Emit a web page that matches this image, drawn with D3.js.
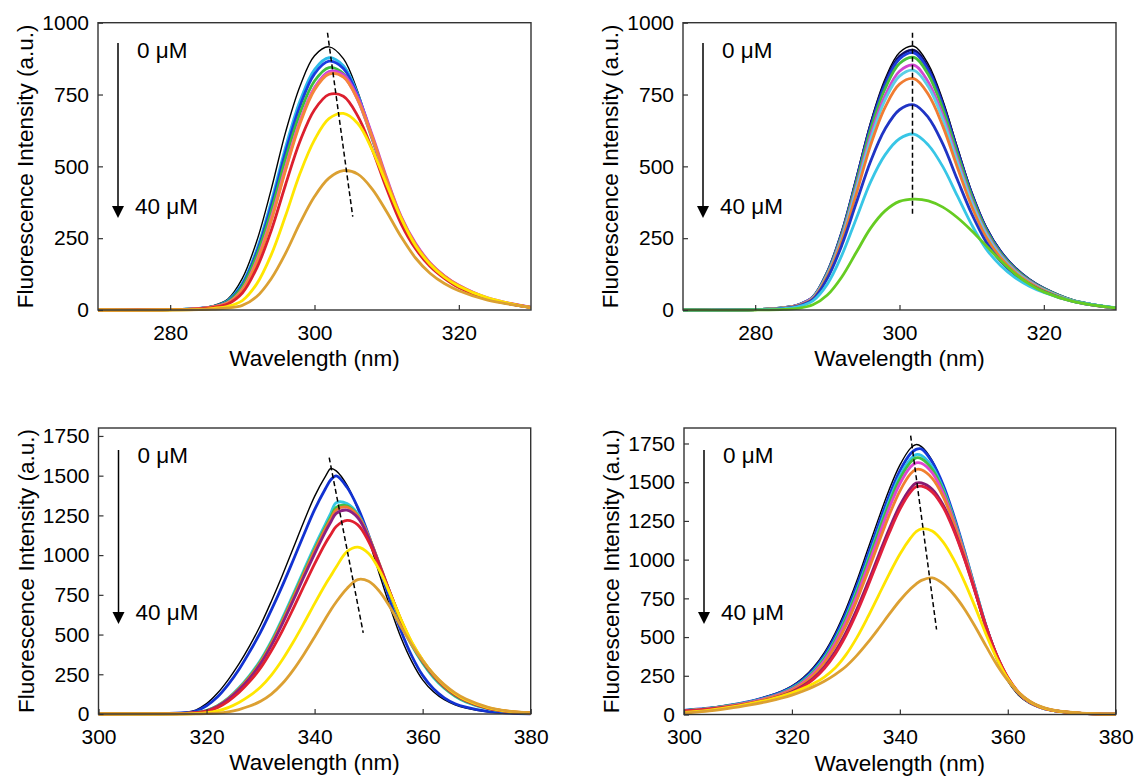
<!DOCTYPE html>
<html><head><meta charset="utf-8">
<script src="https://cdn.jsdelivr.net/npm/d3@7"></script>
<style>
body{margin:0;background:#fff;}
svg text{font-family:"Liberation Sans",Arial,Helvetica,sans-serif;fill:#000;}
</style>
</head><body>
<svg id="chart" width="1135" height="778"></svg>
<script>
// ---------- wavelength grids ----------
const wlTop = [270, 280, 284, 286, 288, 290, 292, 294, 296, 298, 300, 302, 304, 306, 308, 310, 312, 314, 316, 318, 320, 324, 330];
const wlBL = [300, 310, 316, 318, 320, 322, 324, 326, 328, 330, 332, 334, 336, 338, 340, 342, 343, 344, 346, 348, 350, 352, 354, 356, 358, 360, 362, 364, 366, 368, 372, 376, 380];
const wlBR = [300, 304, 308, 312, 316, 318, 320, 322, 324, 326, 328, 330, 332, 334, 336, 338, 340, 342, 343, 344, 346, 348, 350, 352, 354, 356, 358, 360, 362, 364, 366, 368, 372, 376, 380];

// ---------- tick labels ----------
const xTicksTop = [280, 300, 320];
const yTicksTop = [0, 250, 500, 750, 1000];
const xTicksBottom = [300, 320, 340, 360, 380];
const yTicksBottom = [0, 250, 500, 750, 1000, 1250, 1500, 1750];

// ---------- panel 1 (top left) ----------
const p1_black  = [0, 1, 7, 15, 38, 110, 240, 420, 620, 780, 885, 916, 875, 760, 600, 440, 310, 220, 158, 115, 82, 38, 8];
const p1_cyan   = [0, 1, 6, 12, 33, 93, 210, 376, 567, 728, 837, 878, 850, 750, 601, 446, 315, 224, 160, 116, 83, 39, 9];
const p1_blue   = [0, 1, 6, 12, 30, 88, 201, 362, 550, 711, 822, 866, 841, 745, 601, 447, 317, 225, 161, 117, 83, 40, 9];
const p1_green  = [0, 1, 5, 12, 29, 82, 190, 344, 527, 686, 797, 844, 823, 733, 594, 444, 315, 223, 159, 116, 82, 40, 9];
const p1_violet = [0, 1, 5, 11, 25, 69, 168, 314, 492, 657, 774, 830, 820, 741, 609, 460, 326, 232, 165, 119, 86, 42, 10];
const p1_pink   = [0, 1, 5, 11, 25, 72, 173, 321, 498, 659, 773, 825, 812, 730, 598, 449, 319, 226, 161, 117, 83, 41, 9];
const p1_orange = [0, 1, 5, 11, 24, 69, 166, 310, 487, 649, 766, 821, 811, 732, 603, 455, 323, 229, 163, 118, 85, 41, 9];
const p1_red    = [0, 1, 4, 9, 21, 59, 146, 276, 437, 588, 697, 750, 744, 675, 559, 422, 300, 213, 152, 110, 78, 39, 8];
const p1_yellow = [0, 0, 2, 6, 13, 33, 91, 192, 329, 476, 592, 666, 684, 649, 557, 437, 319, 224, 159, 114, 83, 42, 8];
const p1_gold   = [0, 0, 1, 3, 7, 16, 47, 109, 198, 303, 395, 459, 485, 473, 421, 342, 255, 181, 128, 92, 67, 34, 9];
const p1Series = [p1_black, p1_cyan, p1_blue, p1_green, p1_violet, p1_pink, p1_orange, p1_red, p1_yellow, p1_gold];
const p1Colors = ["#000000", "#2bbbe9", "#1a3ce0", "#3cbf3c", "#c23ee0", "#ee5cb8", "#f5863a", "#dc1f2e", "#ffe600", "#dba032"];

// ---------- panel 2 (top right) ----------
const p2_black  = [0, 1, 8, 18, 46, 134, 274, 460, 654, 804, 896, 918, 855, 730, 568, 412, 290, 207, 149, 108, 77, 35, 7];
const p2_navy   = [0, 1, 8, 18, 45, 132, 270, 453, 644, 792, 883, 904, 842, 719, 560, 406, 286, 204, 147, 106, 76, 34, 7];
const p2_blue   = [0, 1, 8, 18, 45, 131, 267, 449, 638, 784, 874, 895, 834, 712, 554, 402, 283, 202, 145, 105, 75, 34, 7];
const p2_green  = [0, 1, 8, 17, 44, 128, 262, 441, 627, 770, 858, 879, 819, 699, 544, 395, 278, 198, 143, 103, 74, 34, 7];
const p2_magenta= [0, 1, 7, 17, 43, 124, 254, 427, 607, 746, 831, 852, 793, 677, 527, 382, 269, 192, 138, 100, 71, 32, 6];
const p2_ltcyan = [0, 1, 7, 16, 42, 122, 249, 418, 594, 731, 814, 834, 777, 664, 516, 375, 264, 188, 135, 98, 70, 32, 6];
const p2_orange = [0, 1, 7, 16, 40, 118, 240, 403, 574, 705, 786, 805, 750, 640, 498, 361, 254, 182, 131, 95, 68, 31, 6];
const p2_blue2  = [0, 1, 6, 14, 37, 110, 225, 372, 518, 630, 697, 714, 670, 578, 455, 335, 237, 170, 123, 90, 64, 30, 7];
const p2_cyan2  = [0, 1, 5, 12, 32, 90, 190, 318, 446, 540, 596, 612, 574, 499, 398, 297, 213, 155, 113, 83, 61, 31, 8];
const p2_green2 = [0, 0, 2, 6, 18, 52, 115, 200, 285, 345, 378, 386, 380, 358, 322, 276, 224, 172, 126, 90, 63, 30, 7];
const p2Series = [p2_black, p2_navy, p2_blue, p2_green, p2_magenta, p2_ltcyan, p2_orange, p2_blue2, p2_cyan2, p2_green2];
const p2Colors = ["#000000", "#12126a", "#1e3ee0", "#46c03c", "#d148d0", "#5ccfe6", "#f07c32", "#2034c4", "#38c6e6", "#66cc22"];

// ---------- panel 3 (bottom left) ----------
const p3_black  = [0, 2, 10, 25, 65, 130, 215, 315, 430, 560, 710, 870, 1040, 1210, 1370, 1495, 1545, 1530, 1440, 1290, 1100, 880, 670, 480, 330, 215, 140, 90, 58, 38, 14, 5, 1];
const p3_blue   = [0, 2, 8, 19, 52, 107, 185, 280, 393, 515, 655, 805, 965, 1128, 1286, 1418, 1474, 1499, 1427, 1299, 1126, 920, 713, 523, 365, 243, 159, 102, 65, 43, 16, 6, 1];
const p3_cyan   = [0, 1, 4, 9, 22, 52, 100, 165, 245, 340, 460, 600, 750, 905, 1055, 1195, 1265, 1330, 1325, 1260, 1120, 940, 750, 575, 430, 320, 230, 162, 112, 76, 33, 13, 5];
const p3_green  = [0, 1, 4, 9, 21, 50, 97, 160, 238, 332, 450, 588, 737, 890, 1038, 1176, 1240, 1300, 1310, 1250, 1115, 940, 755, 580, 435, 325, 235, 166, 115, 79, 35, 14, 5];
const p3_orange = [0, 1, 4, 8, 20, 49, 95, 157, 233, 326, 443, 580, 728, 880, 1028, 1166, 1228, 1285, 1302, 1248, 1118, 945, 762, 588, 442, 332, 242, 172, 120, 83, 37, 15, 6];
const p3_purple = [0, 1, 4, 8, 19, 47, 92, 152, 226, 317, 432, 566, 712, 862, 1008, 1146, 1208, 1262, 1283, 1235, 1110, 940, 760, 588, 443, 333, 243, 173, 121, 84, 37, 15, 6];
const p3_red    = [0, 1, 3, 7, 16, 40, 80, 135, 205, 290, 398, 522, 660, 804, 945, 1075, 1130, 1180, 1218, 1190, 1085, 930, 760, 592, 448, 338, 248, 178, 125, 87, 39, 16, 6];
const p3_yellow = [0, 0, 1, 3, 8, 19, 40, 72, 115, 170, 245, 340, 450, 570, 695, 815, 870, 925, 1022, 1050, 1010, 905, 755, 595, 452, 340, 250, 180, 127, 88, 40, 16, 6];
const p3_gold   = [0, 0, 0, 1, 2, 5, 13, 28, 50, 80, 125, 190, 275, 375, 485, 600, 655, 705, 790, 846, 835, 772, 670, 550, 435, 335, 252, 185, 133, 94, 44, 18, 7];
const p3Series = [p3_black, p3_blue, p3_cyan, p3_green, p3_orange, p3_purple, p3_red, p3_yellow, p3_gold];
const p3Colors = ["#000000", "#1232d2", "#34c8e2", "#44c040", "#f07a30", "#8c2082", "#e02030", "#ffe600", "#dca032"];

// ---------- panel 4 (bottom right) ----------
const p4_black  = [28, 40, 60, 85, 125, 150, 185, 235, 305, 400, 525, 680, 860, 1060, 1260, 1450, 1610, 1720, 1743, 1730, 1640, 1480, 1270, 1030, 780, 540, 350, 215, 125, 72, 42, 25, 10, 4, 2];
const p4_blue   = [27, 39, 58, 83, 121, 145, 178, 225, 292, 383, 504, 653, 829, 1024, 1221, 1411, 1573, 1685, 1712, 1715, 1630, 1485, 1285, 1055, 810, 570, 375, 232, 137, 80, 47, 28, 11, 4, 2];
const p4_cyan   = [26, 37, 56, 80, 116, 139, 171, 216, 280, 367, 484, 628, 800, 992, 1188, 1378, 1540, 1650, 1678, 1672, 1600, 1462, 1268, 1045, 805, 568, 374, 232, 137, 80, 47, 28, 11, 4, 2];
const p4_green  = [25, 36, 55, 79, 114, 137, 168, 212, 275, 360, 475, 617, 787, 977, 1172, 1360, 1521, 1630, 1657, 1652, 1583, 1450, 1260, 1040, 802, 566, 373, 232, 137, 80, 47, 28, 11, 4, 2];
const p4_magenta= [24, 35, 53, 77, 111, 133, 163, 205, 266, 348, 460, 598, 764, 950, 1142, 1330, 1490, 1600, 1625, 1622, 1560, 1432, 1248, 1033, 798, 564, 372, 232, 137, 80, 47, 28, 11, 4, 2];
const p4_orange = [23, 34, 51, 74, 107, 128, 157, 197, 255, 334, 441, 574, 735, 915, 1102, 1285, 1443, 1555, 1582, 1580, 1525, 1408, 1232, 1024, 794, 564, 374, 234, 139, 82, 48, 29, 11, 4, 2];
const p4_purple = [22, 32, 48, 70, 100, 120, 147, 184, 236, 308, 405, 528, 677, 845, 1022, 1196, 1350, 1462, 1494, 1496, 1455, 1355, 1198, 1005, 788, 565, 378, 238, 142, 84, 50, 30, 12, 4, 2];
const p4_red    = [21, 31, 47, 68, 97, 116, 142, 178, 228, 297, 390, 510, 656, 822, 998, 1170, 1325, 1438, 1470, 1474, 1436, 1340, 1188, 1000, 786, 566, 380, 240, 144, 85, 50, 30, 12, 4, 2];
const p4_yellow = [14, 25, 44, 68, 98, 117, 140, 167, 200, 242, 300, 385, 495, 625, 765, 905, 1035, 1140, 1180, 1199, 1185, 1115, 1000, 855, 690, 515, 358, 232, 142, 85, 50, 30, 12, 4, 2];
const p4_gold   = [10, 20, 38, 60, 88, 105, 125, 150, 180, 215, 258, 310, 380, 462, 552, 646, 736, 812, 842, 866, 882, 845, 775, 680, 565, 440, 320, 220, 142, 88, 53, 32, 13, 5, 2];
const p4Series = [p4_black, p4_blue, p4_cyan, p4_green, p4_magenta, p4_orange, p4_purple, p4_red, p4_yellow, p4_gold];
const p4Colors = ["#000000", "#1438d8", "#30c2e8", "#40c040", "#e044d0", "#f08030", "#8a1a70", "#e0203c", "#ffe400", "#dca032"];

// ---------- peak-shift guide lines [wavelength, intensity] ----------
const p1Guide = [[301.8, 965], [305.3, 325]];
const p2Guide = [[301.8, 965], [301.8, 325]];
const p3Guide = [[342.7, 1614], [349.0, 511]];
const p4Guide = [[342.0, 1801], [346.8, 549]];

// ---------- annotation text ----------
const startLabel = "0 \u03bcM";
const endLabel = "40 \u03bcM";
const xTitle = "Wavelength (nm)";
const yTitle = "Fluorescence Intensity (a.u.)";

// ---------- layout ----------
const panels = [
  {wl: wlTop, series: p1Series, colors: p1Colors, guide: p1Guide, xDomain: [270, 330], yMax: 1000, xTicks: xTicksTop, yTicks: yTicksTop,
   box: {x0: 98, x1: 531, y0: 22.7, y1: 310}, arrow: {y0: 43, y1: 218}, lab: {y0: 57.5, y1: 213.5}},
  {wl: wlTop, series: p2Series, colors: p2Colors, guide: p2Guide, xDomain: [270, 330], yMax: 1000, xTicks: xTicksTop, yTicks: yTicksTop,
   box: {x0: 683, x1: 1116, y0: 22.7, y1: 310}, arrow: {y0: 43, y1: 218}, lab: {y0: 57.5, y1: 213.5}},
  {wl: wlBL, series: p3Series, colors: p3Colors, guide: p3Guide, xDomain: [300, 380], yMax: 1800, xTicks: xTicksBottom, yTicks: yTicksBottom,
   box: {x0: 98.5, x1: 530.7, y0: 428, y1: 714}, arrow: {y0: 450, y1: 624}, lab: {y0: 463, y1: 620}},
  {wl: wlBR, series: p4Series, colors: p4Colors, guide: p4Guide, xDomain: [300, 380], yMax: 1850, xTicks: xTicksBottom, yTicks: yTicksBottom,
   box: {x0: 684, x1: 1115.7, y0: 428, y1: 714.5}, arrow: {y0: 450, y1: 624}, lab: {y0: 463, y1: 620}}
];

const svg = d3.select("#chart");
const FONT = '"Liberation Sans", Arial, Helvetica, sans-serif';

panels.forEach((p, pi) => {
  const b = p.box;
  const x = d3.scaleLinear().domain(p.xDomain).range([b.x0, b.x1]);
  const y = d3.scaleLinear().domain([0, p.yMax]).range([b.y1, b.y0]);
  const g = svg.append("g");

  const clipId = "clip" + pi;
  svg.append("defs").append("clipPath").attr("id", clipId)
    .append("rect").attr("x", b.x0).attr("y", b.y0).attr("width", b.x1 - b.x0).attr("height", b.y1 - b.y0 + 2);

  const line = d3.line().x(d => x(d[0])).y(d => y(Math.max(0, d[1]))).curve(d3.curveCatmullRom.alpha(0.5));
  const plot = g.append("g").attr("clip-path", `url(#${clipId})`);
  p.series.forEach((vals, i) => {
    const pts = p.wl.map((w, j) => [w, vals[j]]);
    plot.append("path").datum(pts)
      .attr("d", line)
      .attr("fill", "none")
      .attr("stroke", p.colors[i])
      .attr("stroke-width", i === 0 ? 1.4 : 2.8)
      .attr("stroke-linejoin", "round");
  });

  // guide line
  plot.append("path").datum(p.guide)
    .attr("d", d3.line().x(d => x(d[0])).y(d => y(d[1])))
    .attr("stroke", "#000").attr("stroke-width", 1.5)
    .attr("stroke-dasharray", "5,3").attr("fill", "none");

  // axes
  const xAxis = d3.axisBottom(x).tickValues(p.xTicks).tickSize(-5).tickPadding(15).tickFormat(d3.format("d"));
  const yAxis = d3.axisLeft(y).tickValues(p.yTicks).tickSize(-5).tickPadding(9).tickFormat(d3.format("d"));
  const gx = g.append("g").attr("transform", `translate(0,${b.y1})`).call(xAxis);
  const gy = g.append("g").attr("transform", `translate(${b.x0},0)`).call(yAxis);
  [gx, gy].forEach(a => {
    a.select(".domain").remove();
    a.selectAll(".tick line").attr("stroke", "#333").attr("stroke-width", 1.2);
    a.selectAll(".tick text").attr("font-size", 21).attr("font-family", FONT).attr("fill", "#000");
  });

  // frame
  g.append("rect").attr("x", b.x0).attr("y", b.y0)
    .attr("width", b.x1 - b.x0).attr("height", b.y1 - b.y0)
    .attr("fill", "none").attr("stroke", "#333").attr("stroke-width", 1.4);

  // titles
  g.append("text").attr("x", (b.x0 + b.x1) / 2).attr("y", b.y1 + 56)
    .attr("text-anchor", "middle").attr("font-size", 22.5).text(xTitle);
  g.append("text")
    .attr("transform", `translate(${b.x0 - 65},${(b.y0 + b.y1) / 2}) rotate(-90)`)
    .attr("text-anchor", "middle").attr("font-size", 22.5).text(yTitle);

  // concentration arrow
  const ax = b.x0 + 20;
  g.append("line").attr("x1", ax).attr("x2", ax).attr("y1", p.arrow.y0).attr("y2", p.arrow.y1 - 10)
    .attr("stroke", "#000").attr("stroke-width", 1.5);
  g.append("path")
    .attr("d", `M${ax - 6},${p.arrow.y1 - 12} L${ax + 6},${p.arrow.y1 - 12} L${ax},${p.arrow.y1} Z`)
    .attr("fill", "#000");
  g.append("text").attr("x", b.x0 + 39).attr("y", p.lab.y0).attr("font-size", 22.5).text(startLabel);
  g.append("text").attr("x", b.x0 + 37).attr("y", p.lab.y1).attr("font-size", 22.5).text(endLabel);
});
</script>
</body></html>
